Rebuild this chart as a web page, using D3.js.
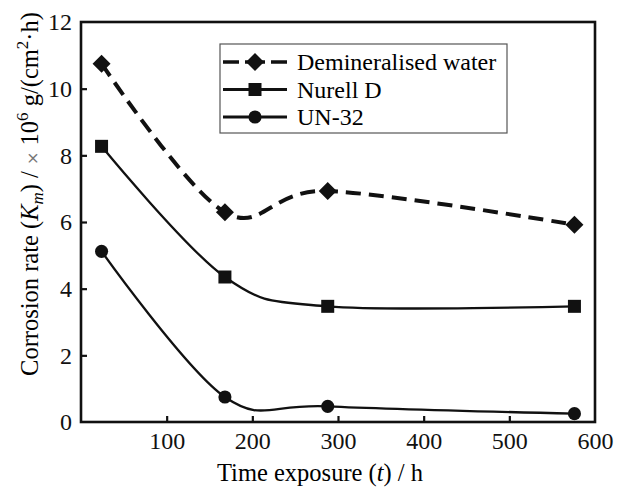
<!DOCTYPE html>
<html>
<head>
<meta charset="utf-8">
<script src="https://cdn.jsdelivr.net/npm/d3@7"></script>
<style>
  body { margin: 0; background: #fff; }
</style>
</head>
<body>
<div id="chart"></div>
<script>
var hours = [24, 168, 288, 576];
var demineralised = [10.75, 6.29, 6.93, 5.92];
var nurell = [8.27, 4.35, 3.47, 3.47];
var un32 = [5.12, 0.75, 0.47, 0.25];
var seriesNames = ["Demineralised water", "Nurell D", "UN-32"];
var xTicks = [100, 200, 300, 400, 500, 600];
var yTicks = [0, 2, 4, 6, 8, 10, 12];

var serif = "'Liberation Serif', 'Times New Roman', serif";

var svgWidth = 617;
var svgHeight = 488;
var margin = { top: 22, right: 22, bottom: 66, left: 81 };
var width = svgWidth - margin.left - margin.right;
var height = svgHeight - margin.top - margin.bottom;

var svg = d3.select("#chart")
    .append("svg")
    .attr("width", svgWidth)
    .attr("height", svgHeight)
    .style("font-family", serif);

var chartGroup = svg.append("g")
    .attr("transform", `translate(${margin.left}, ${margin.top})`);

var x = d3.scaleLinear().domain([0, 600]).range([0, width]);
var y = d3.scaleLinear().domain([0, 12]).range([height, 0]);

// axes, ticks pointing inward
var bottomAxis = d3.axisBottom(x).tickValues(xTicks).tickSizeInner(-6).tickSizeOuter(0).tickPadding(10);
var leftAxis = d3.axisLeft(y).tickValues(yTicks).tickSizeInner(-6).tickSizeOuter(0).tickPadding(9);

var gx = chartGroup.append("g")
    .attr("transform", `translate(0,${height})`)
    .call(bottomAxis);
var gy = chartGroup.append("g").call(leftAxis);

[gx, gy].forEach(function(g) {
    g.attr("font-family", null).attr("font-size", null);
    g.select(".domain").remove();
    g.selectAll("line").attr("stroke", "#111").attr("stroke-width", 2.2);
    g.selectAll("text")
        .style("font-family", serif)
        .style("font-size", "24px")
        .attr("fill", "#111");
});
gx.selectAll(".tick").filter(d => d === 600).select("line").remove();
gy.selectAll(".tick").filter(d => d === 0 || d === 12).select("line").remove();

chartGroup.append("rect")
    .attr("width", width)
    .attr("height", height)
    .attr("fill", "none")
    .attr("stroke", "#111")
    .attr("stroke-width", 2.6);

var line = d3.line()
    .x(d => x(d[0]))
    .y(d => y(d[1]))
    .curve(d3.curveCardinal.tension(0));

var series = [
    { name: seriesNames[0], values: demineralised, marker: "diamond", width: 4, dash: "15,8" },
    { name: seriesNames[1], values: nurell, marker: "square", width: 2.3, dash: null },
    { name: seriesNames[2], values: un32, marker: "circle", width: 2.3, dash: null }
];

function marker(type) {
    if (type === "diamond") return "M0,-9L9,0L0,9L-9,0Z";
    if (type === "square") return "M-6.5,-6.5H6.5V6.5H-6.5Z";
    return d3.symbol().type(d3.symbolCircle).size(135)();
}

series.forEach(function(s) {
    var pts = hours.map((h, i) => [h, s.values[i]]);
    chartGroup.append("path")
        .datum(pts)
        .attr("d", line)
        .attr("fill", "none")
        .attr("stroke", "#111")
        .attr("stroke-width", s.width)
        .attr("stroke-dasharray", s.dash);

    chartGroup.selectAll(null)
        .data(pts)
        .enter()
        .append("path")
        .attr("d", marker(s.marker))
        .attr("transform", d => `translate(${x(d[0])},${y(d[1])})`)
        .attr("fill", "#111");
});

// legend
var legend = svg.append("g").attr("transform", "translate(220,44)");
legend.append("rect")
    .attr("width", 287)
    .attr("height", 89)
    .attr("fill", "#fff")
    .attr("stroke", "#555")
    .attr("stroke-width", 1.2);

series.forEach(function(s, i) {
    var cy = 18 + i * 27.5;
    legend.append("line")
        .attr("x1", 3).attr("x2", 67)
        .attr("y1", cy).attr("y2", cy)
        .attr("stroke", "#111")
        .attr("stroke-width", s.dash ? 3.5 : 3)
        .attr("stroke-dasharray", s.dash ? "16,6,20,6,20" : null);
    legend.append("path")
        .attr("d", marker(s.marker))
        .attr("transform", `translate(35,${cy})`)
        .attr("fill", "#111");
    legend.append("text")
        .attr("x", 77)
        .attr("y", cy + 8)
        .style("font-family", serif)
        .style("font-size", "24px")
        .text(s.name);
});

// axis titles
svg.append("text")
    .attr("x", 320)
    .attr("y", 481)
    .attr("text-anchor", "middle")
    .style("font-family", serif)
    .style("font-size", "24.5px")
    .html('Time exposure (<tspan font-style="italic">t</tspan>) / h');

var yTitle = svg.append("text")
    .attr("transform", "translate(38,194) rotate(-90)")
    .attr("text-anchor", "middle")
    .style("font-family", serif)
    .style("font-size", "24.5px");
yTitle.append("tspan").text("Corrosion rate (");
yTitle.append("tspan").attr("font-style", "italic").text("K");
yTitle.append("tspan").attr("font-style", "italic").style("font-size", "17px").attr("dy", 5).text("m");
yTitle.append("tspan").attr("dy", -5).text(") / ");
yTitle.append("tspan").style("font-family", "'DejaVu Sans'").style("font-size", "16px").attr("fill", "#777").text("\u00d7");
yTitle.append("tspan").text(" 10");
yTitle.append("tspan").style("font-size", "17px").attr("dy", -10).text("6");
yTitle.append("tspan").attr("dy", 10).text(" g/(cm");
yTitle.append("tspan").style("font-size", "17px").attr("dy", -10).text("2");
yTitle.append("tspan").attr("dy", 10).text("\u00b7h)");
</script>
</body>
</html>
